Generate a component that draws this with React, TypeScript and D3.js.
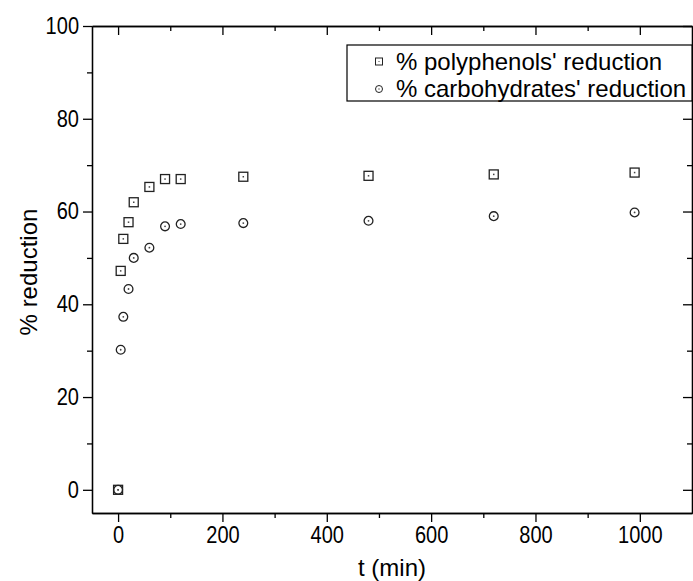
import { useEffect, useRef } from 'react'
import * as d3 from 'd3'

const times = [0, 5, 10, 20, 30, 60, 90, 120, 240, 480, 720, 990]
const polyphenols = [0, 47.2, 54.1, 57.7, 62.0, 65.3, 67.0, 67.0, 67.5, 67.7, 68.0, 68.4]
const carbohydrates = [0, 30.2, 37.3, 43.3, 50.0, 52.2, 56.8, 57.3, 57.5, 58.0, 59.0, 59.8]
const legendLabels = ["% polyphenols' reduction", "% carbohydrates' reduction"]
const xTicks = [0, 200, 400, 600, 800, 1000]
const yTicks = [0, 20, 40, 60, 80, 100]

const width = 693
const height = 581
const font = 'Liberation Sans, Arial, sans-serif'

export default function App() {
  const svgRef = useRef<SVGSVGElement>(null)

  useEffect(() => {
    if (!svgRef.current) return
    const svg = d3.select(svgRef.current)
    svg.selectAll('*').remove()

    const left = 92, right = 692, top = 26, bottom = 513
    const x = d3.scaleLinear().domain([-50, 1100]).range([left, right])
    const y = d3.scaleLinear().domain([-5, 100]).range([bottom, top])

    const xMinor = d3.range(0, 1100, 100).filter(v => !xTicks.includes(v))
    const yMinor = d3.range(0, 101, 10).filter(v => !yTicks.includes(v))

    const axisStyle = (g: d3.Selection<SVGGElement, unknown, null, undefined>) => {
      g.select('.domain').attr('stroke', '#000').attr('stroke-width', 1.3)
      g.selectAll('.tick line').attr('stroke', '#000').attr('stroke-width', 1.3)
      // tick labels in the original are a bit tall and narrow
      g.selectAll<SVGTextElement, unknown>('text')
        .attr('font-family', font).attr('font-size', 23).attr('fill', '#000')
        .each(function () {
          const w = this.getComputedTextLength()
          if (w > 0) d3.select(this).attr('textLength', w * 0.87).attr('lengthAdjust', 'spacingAndGlyphs')
        })
    }

    // bottom
    svg.append('g').attr('transform', `translate(0,${bottom})`)
      .call(d3.axisBottom(x).tickValues(xTicks).tickSize(9).tickSizeOuter(0).tickPadding(5).tickFormat(d3.format('d')))
      .call(axisStyle)
    svg.append('g').attr('transform', `translate(0,${bottom})`)
      .call(d3.axisBottom(x).tickValues(xMinor).tickSize(5).tickSizeOuter(0).tickFormat(() => ''))
      .call(axisStyle)

    // top (ticks inward)
    svg.append('g').attr('transform', `translate(0,${top})`)
      .call(d3.axisBottom(x).tickValues(xTicks).tickSize(9).tickSizeOuter(0).tickFormat(() => ''))
      .call(axisStyle)
    svg.append('g').attr('transform', `translate(0,${top})`)
      .call(d3.axisBottom(x).tickValues(xMinor).tickSize(5).tickSizeOuter(0).tickFormat(() => ''))
      .call(axisStyle)

    // left
    svg.append('g').attr('transform', `translate(${left},0)`)
      .call(d3.axisLeft(y).tickValues(yTicks).tickSize(9).tickSizeOuter(0).tickPadding(4))
      .call(axisStyle)
    svg.append('g').attr('transform', `translate(${left},0)`)
      .call(d3.axisLeft(y).tickValues(yMinor).tickSize(5).tickSizeOuter(0).tickFormat(() => ''))
      .call(axisStyle)

    // right (ticks inward)
    svg.append('g').attr('transform', `translate(${right},0)`)
      .call(d3.axisLeft(y).tickValues(yTicks).tickSize(9).tickSizeOuter(0).tickFormat(() => ''))
      .call(axisStyle)
    svg.append('g').attr('transform', `translate(${right},0)`)
      .call(d3.axisLeft(y).tickValues(yMinor).tickSize(5).tickSizeOuter(0).tickFormat(() => ''))
      .call(axisStyle)

    const stroke = '#222'

    // squares
    const sq = 9
    svg.append('g').selectAll('g').data(times).enter().append('g')
      .attr('transform', (d, i) => `translate(${x(d)},${y(polyphenols[i])})`)
      .each(function () {
        const g = d3.select(this)
        g.append('rect').attr('x', -sq / 2).attr('y', -sq / 2).attr('width', sq).attr('height', sq)
          .attr('fill', 'none').attr('stroke', stroke).attr('stroke-width', 1.3)
        g.append('rect').attr('x', -0.75).attr('y', -0.75).attr('width', 1.5).attr('height', 1.5).attr('fill', '#444')
      })

    // circles
    svg.append('g').selectAll('g').data(times).enter().append('g')
      .attr('transform', (d, i) => `translate(${x(d)},${y(carbohydrates[i])})`)
      .each(function () {
        const g = d3.select(this)
        g.append('circle').attr('r', 4.4).attr('fill', 'none').attr('stroke', stroke).attr('stroke-width', 1.3)
        g.append('circle').attr('r', 0.9).attr('fill', '#444')
      })

    // legend
    const lg = svg.append('g')
    lg.append('rect').attr('x', 347).attr('y', 45).attr('width', right - 347).attr('height', 56)
      .attr('fill', '#fff').attr('stroke', '#000').attr('stroke-width', 1.2)
    legendLabels.forEach((label, i) => {
      const cy = 61.5 + i * 27.5
      if (i === 0) {
        lg.append('rect').attr('x', 379 - 3.5).attr('y', cy - 3.5).attr('width', 7).attr('height', 7)
          .attr('fill', 'none').attr('stroke', stroke).attr('stroke-width', 1)
        lg.append('rect').attr('x', 378.5).attr('y', cy - 0.5).attr('width', 1).attr('height', 1).attr('fill', '#444')
      } else {
        lg.append('circle').attr('cx', 379).attr('cy', cy).attr('r', 3.5)
          .attr('fill', 'none').attr('stroke', stroke).attr('stroke-width', 1)
        lg.append('circle').attr('cx', 379).attr('cy', cy).attr('r', 0.7).attr('fill', '#444')
      }
      lg.append('text').attr('x', 396).attr('y', cy).attr('dy', '0.35em')
        .attr('font-family', font).attr('font-size', 24).text(label)
    })

    // axis titles
    svg.append('text').attr('x', (left + right) / 2).attr('y', 576).attr('text-anchor', 'middle')
      .attr('font-family', font).attr('font-size', 24).text('t (min)')
    svg.append('text').attr('transform', `translate(37,272) rotate(-90)`)
      .attr('text-anchor', 'middle').attr('font-family', font).attr('font-size', 24).text('% reduction')
  }, [])

  return (
    <svg ref={svgRef} width={width} height={height}
      style={{ position: 'absolute', left: 0, top: 0, background: '#fff' }} />
  )
}
